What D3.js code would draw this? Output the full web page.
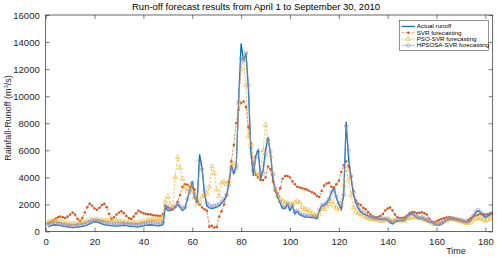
<!DOCTYPE html>
<html><head><meta charset="utf-8">
<script src="https://cdn.jsdelivr.net/npm/d3@7"></script>
<style>body{margin:0;background:#fff}svg{display:block}text{font-family:"Liberation Sans",Arial,sans-serif}</style>
</head><body><script>
const actual = [350,420,480,500,470,430,400,380,350,300,
280,300,330,350,380,420,480,560,650,720,
700,640,560,500,470,450,430,410,400,420,
440,460,430,400,380,360,340,350,380,420,
450,480,500,470,440,420,450,520,
1800,1550,1550,1650,1800,2000,1800,1550,1700,2400,3000,3700,
2500,2100,5700,4700,2800,1900,1750,1700,1750,1800,1900,
2100,2300,2600,3500,4900,4300,4800,
9800,13900,12600,13200,10500,5800,4100,5600,6000,3900,4500,6000,7000,5800,3900,
3000,2500,2100,1700,1700,2000,1550,1900,1300,1500,1250,1150,1100,1050,1050,1050,1000,950,
1500,1900,1950,2100,2400,2900,3200,2500,2000,1650,
2700,8100,5300,4000,2700,2100,1700,1450,1300,
1250,1150,1050,1000,950,920,920,900,920,850,650,560,700,800,800,820,850,
1100,1250,1300,1200,1000,950,1000,900,800,720,680,560,470,
450,550,700,850,920,950,920,900,850,800,750,700,700,850,1100,1400,1530,1400,1200,1050,1150,1250,1300];

const svr = [600,700,800,950,1050,1100,1050,1000,1100,1250,
1400,1250,950,800,1000,1400,1800,2050,1900,1700,
1600,1750,1950,2050,1800,1300,950,1050,1250,1400,
1500,1350,1150,1000,950,1100,1350,1530,1450,1350,
1300,1280,1250,1200,1180,1160,1150,1300,
1900,1800,1700,1650,1800,2200,2700,3300,3500,3450,3300,3250,
3100,2400,2000,1780,1650,1530,350,420,300,330,1100,
1500,2000,2700,3700,5200,6400,8000,
9000,9500,9600,9200,7700,6500,5000,4200,4000,3800,3800,4000,4800,4600,3700,
3000,2800,3200,3900,4100,4100,4000,3700,3500,3300,3250,3200,3150,3100,3000,2900,2800,2650,
2550,3000,3400,3550,3600,3300,3250,3500,3750,4400,
4900,5200,4800,4000,3000,2300,2050,1950,1750,
1650,1450,1250,1100,1050,1080,1150,1300,1550,1700,1780,1550,1250,1050,1000,1000,1050,
1150,1350,1450,1420,1350,1380,1420,1350,1250,950,700,680,750,
850,920,980,1040,1050,1040,1000,920,860,800,740,680,850,1000,1100,1160,1230,1290,1270,1250,1300,1350,1410];

const pso = [700,750,780,800,760,720,680,650,620,600,
580,600,620,650,680,720,780,830,870,900,
880,850,820,800,820,850,830,800,780,760,
740,720,700,680,660,650,640,660,700,750,
800,850,880,900,920,900,920,1000,
2200,2600,2000,1800,4000,5500,4700,3900,3200,3000,3350,2900,
2500,2000,2200,2600,2700,2800,3300,4800,4300,3100,2600,
3600,3700,3500,3700,4800,5000,5000,
9500,12000,12800,10800,7000,6500,5300,4300,4100,4300,6000,7900,6800,5600,4300,
3100,2700,2400,2250,2150,2100,2050,2000,2150,2250,2150,1800,1650,1600,1500,1350,1250,1200,
1300,1750,1650,1850,2000,2250,1900,1750,1650,2100,
3400,4600,3800,2700,1800,1450,1350,1250,1150,
1050,980,920,900,880,850,800,780,850,920,880,800,780,800,820,800,780,
950,1000,1040,1050,1040,1000,950,900,850,750,650,560,550,
580,650,720,800,880,920,900,850,800,780,700,620,600,700,850,950,970,950,880,800,850,950,1040];

const hpsosa = [500,560,600,620,580,540,500,470,450,420,
400,420,450,480,520,560,620,700,780,820,
800,760,700,650,600,580,560,540,530,540,
560,580,560,540,520,500,480,490,520,560,
600,640,660,640,620,600,620,680,
1900,1700,1650,1700,1850,2100,1900,1700,1800,2400,3000,3600,
2600,2200,5200,4600,3000,2100,1900,1850,1900,1950,2000,
2200,2400,2700,3400,4600,4400,4700,
9600,12800,12600,13200,10800,6200,4500,5500,5900,4300,4300,5700,6800,5900,4200,
3200,2600,2200,1850,1800,2050,1700,1900,1450,1550,1350,1250,1200,1150,1150,1100,1100,1050,
1600,1950,2000,2150,2400,2900,3100,2600,2100,1800,
2700,7800,6000,4100,2900,2200,1800,1550,1400,
1300,1200,1100,1050,1000,980,970,960,960,900,750,680,760,850,850,870,900,
1150,1300,1350,1250,1100,1000,1050,950,850,780,730,620,550,
530,620,750,880,950,980,950,930,880,840,800,760,760,900,1150,1450,1600,1450,1250,1100,1200,1300,1350];

const days = d3.range(1, actual.length + 1);
const xTicks = [0,20,40,60,80,100,120,140,160,180];
const yTicks = [0,2000,4000,6000,8000,10000,12000,14000,16000];
const seriesNames = ["Actual runoff","SVR forecasting","PSO-SVR forecasting","HPSOSA-SVR forecasting"];
const titleText = "Run-off forecast results from April 1 to September 30, 2010";

const W = 497, H = 257;
const L = 45.7, R = 492.7, T = 15, B = 231.5;
const AX = "#262626";
const C_ACT = "#0072BD", C_SVR = "#D95319", C_PSO = "#EDB120", C_HP = "#8a8dc6";

const svg = d3.select("body").append("svg").attr("width", W).attr("height", H);
const x = d3.scaleLinear().domain([0, 183]).range([L, R]);
const y = d3.scaleLinear().domain([0, 16000]).range([B, T]);

svg.append("rect").attr("x", L).attr("y", T).attr("width", R - L).attr("height", B - T)
  .attr("fill", "#fff");

const clip = svg.append("clipPath").attr("id", "c").append("rect")
  .attr("x", L).attr("y", T).attr("width", R - L).attr("height", B - T);
const g = svg.append("g").attr("clip-path", "url(#c)");

const line = d => d3.line().x((v, i) => x(days[i])).y(v => y(v))(d);

g.append("path").attr("d", line(actual)).attr("fill", "none").attr("stroke", C_ACT).attr("stroke-width", 1.3);
g.append("path").attr("d", line(svr)).attr("fill", "none").attr("stroke", C_SVR)
  .attr("stroke-width", 0.7).attr("stroke-dasharray", "2.5,1.5");
g.selectAll(".svr").data(svr).enter().append("circle")
  .attr("cx", (v, i) => x(days[i])).attr("cy", v => y(v)).attr("r", 1.25).attr("fill", C_SVR);
g.append("path").attr("d", line(pso)).attr("fill", "none").attr("stroke", C_PSO)
  .attr("stroke-width", 0.7).attr("stroke-dasharray", "2.5,1.5");
const tri = d3.symbol().type(d3.symbolTriangle).size(9);
g.selectAll(".pso").data(pso).enter().append("path").attr("d", tri)
  .attr("transform", (v, i) => `translate(${x(days[i])},${y(v)})`)
  .attr("fill", "none").attr("stroke", C_PSO).attr("stroke-width", 0.6);
g.append("path").attr("d", line(hpsosa)).attr("fill", "none").attr("stroke", C_HP).attr("stroke-width", 0.6);
g.selectAll(".hp").data(hpsosa).enter().append("circle")
  .attr("cx", (v, i) => x(days[i])).attr("cy", v => y(v)).attr("r", 1.7)
  .attr("fill", "none").attr("stroke", C_HP).attr("stroke-width", 0.6);

const styleAxis = sel => {
  sel.select(".domain").remove();
  sel.selectAll("line").attr("stroke", AX).attr("stroke-width", 0.6);
  sel.selectAll("text").attr("fill", AX).style("font-size", "9.5px");
};
svg.append("g").attr("transform", `translate(0,${B})`)
  .call(d3.axisBottom(x).tickValues(xTicks).tickSize(-4).tickPadding(7).tickFormat(d3.format("d")))
  .call(styleAxis);
svg.append("g").attr("transform", `translate(0,${T})`)
  .call(d3.axisTop(x).tickValues(xTicks).tickSize(-4).tickFormat(""))
  .call(styleAxis);
svg.append("g").attr("transform", `translate(${L},0)`)
  .call(d3.axisLeft(y).tickValues(yTicks).tickSize(-4).tickPadding(6).tickFormat(d3.format("d")))
  .call(styleAxis);
svg.append("g").attr("transform", `translate(${R},0)`)
  .call(d3.axisRight(y).tickValues(yTicks).tickSize(-4).tickFormat(""))
  .call(styleAxis);
svg.append("rect").attr("x", L).attr("y", T).attr("width", R - L).attr("height", B - T)
  .attr("fill", "none").attr("stroke", AX).attr("stroke-width", 0.7);

svg.append("text").attr("x", 256).attr("y", 10).attr("text-anchor", "middle")
  .style("font-size", "9.5px").attr("fill", "#000").text(titleText);
svg.append("text").attr("x", 456).attr("y", 254).attr("text-anchor", "middle")
  .style("font-size", "9px").attr("fill", AX).text("Time");
const yl = svg.append("text").attr("transform", "translate(11,118) rotate(-90)")
  .attr("text-anchor", "middle").style("font-size", "9px").attr("fill", AX);
yl.append("tspan").text("Rainfall-Runoff (m");
yl.append("tspan").attr("dy", -3).style("font-size", "6px").text("3");
yl.append("tspan").attr("dy", 3).text("/s)");

const lg = svg.append("g");
lg.append("rect").attr("x", 399.3).attr("y", 20.7).attr("width", 89).attr("height", 30)
  .attr("fill", "#fff").attr("stroke", AX).attr("stroke-width", 0.5);
const ly = [26.4, 32.7, 39, 45.3];
const lcol = [C_ACT, C_SVR, C_PSO, C_HP];
seriesNames.forEach((n, i) => {
  const l = lg.append("line").attr("x1", 401.7).attr("x2", 415).attr("y1", ly[i]).attr("y2", ly[i])
    .attr("stroke", lcol[i]).attr("stroke-width", i === 0 ? 1.2 : 0.6);
  if (i === 1 || i === 2) l.attr("stroke-dasharray", "2,1.2");
  const mx = 408.3;
  if (i === 1) lg.append("circle").attr("cx", mx).attr("cy", ly[i]).attr("r", 1.25).attr("fill", C_SVR);
  if (i === 2) lg.append("path").attr("d", tri).attr("transform", `translate(${mx},${ly[i]})`)
    .attr("fill", "none").attr("stroke", C_PSO).attr("stroke-width", 0.6);
  if (i === 3) lg.append("circle").attr("cx", mx).attr("cy", ly[i]).attr("r", 1.7)
    .attr("fill", "none").attr("stroke", C_HP).attr("stroke-width", 0.6);
  lg.append("text").attr("x", 416.7).attr("y", ly[i] + 2).style("font-size", "6.2px")
    .attr("fill", "#000").text(n);
});
</script></body></html>
